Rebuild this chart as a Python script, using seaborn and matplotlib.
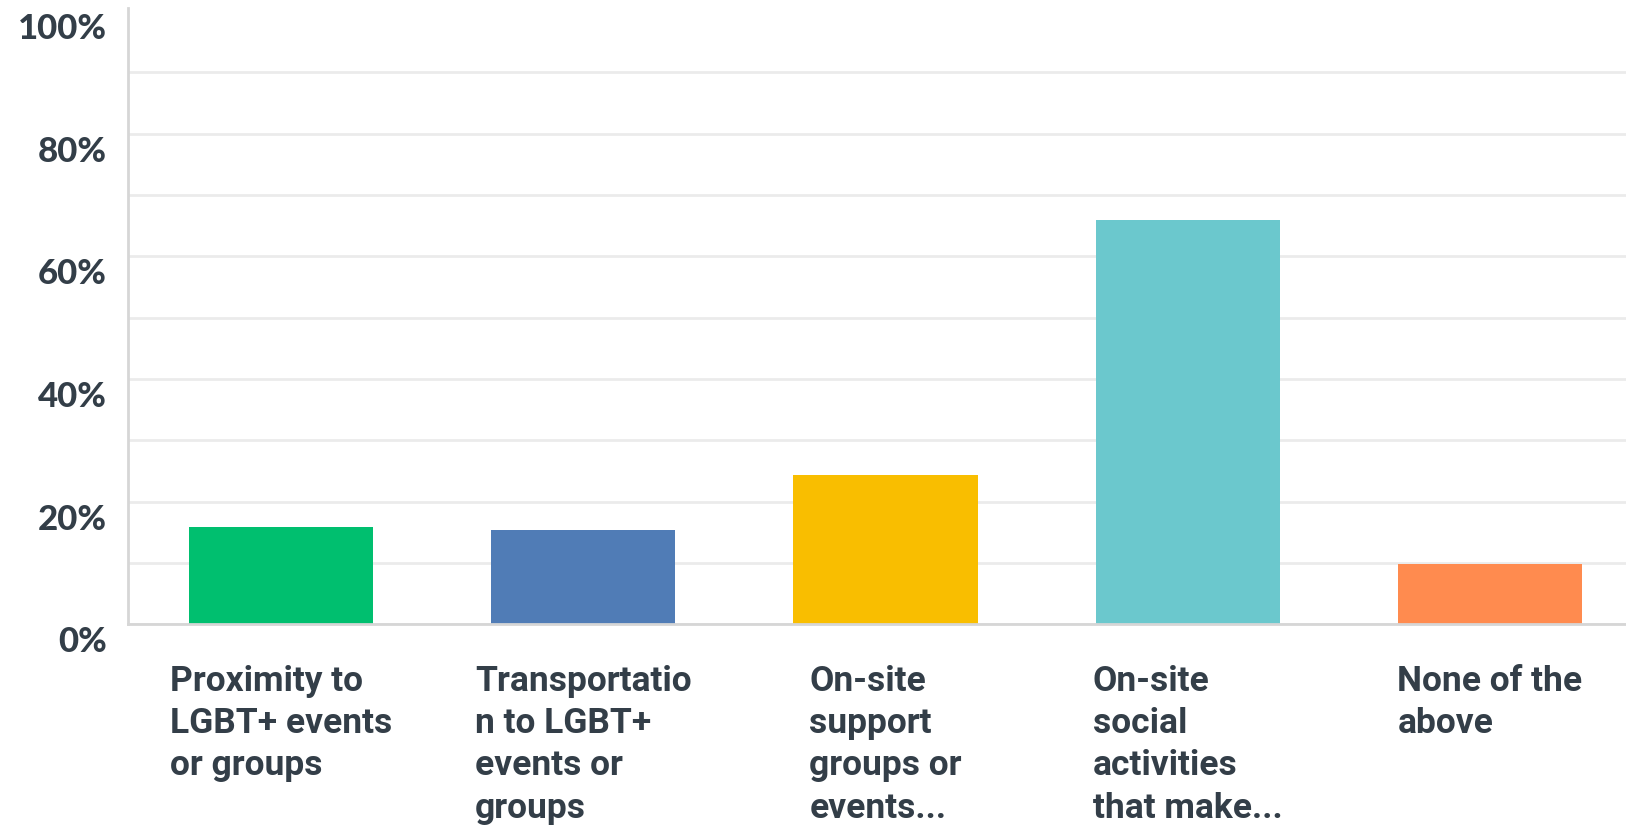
import matplotlib
matplotlib.use("Agg")
import matplotlib.pyplot as plt
import matplotlib.transforms as mtransforms
import seaborn as sns
import pandas as pd

categories = [
    "Proximity to\nLGBT+ events\nor groups",
    "Transportatio\nn to LGBT+\nevents or\ngroups",
    "On-site\nsupport\ngroups or\nevents...",
    "On-site\nsocial\nactivities\nthat make...",
    "None of the\nabove",
]
values = [15.9, 15.4, 24.4, 65.9, 9.8]
colors = ["#00bf6f", "#507cb6", "#f9be00", "#6bc8cd", "#ff8b4f"]
ytick_values = [0, 20, 40, 60, 80, 100]
ytick_labels = ["0%", "20%", "40%", "60%", "80%", "100%"]

sns.set_theme(style="white")
text_color = "#333e48"

df = pd.DataFrame({"cat": categories, "val": values})

fig = plt.figure(figsize=(16.26, 8.25), dpi=100)
ax = fig.add_axes([127.5 / 1626, 1 - 624.3 / 825, 1 - 127.5 / 1626, (624.3 - 8) / 825])

sns.barplot(data=df, x="cat", y="val", hue="cat", palette=colors, legend=False,
            width=0.61, saturation=1, ax=ax, edgecolor="none")

ax.set_xlim(-0.508, 4.45)
ax.set_ylim(0, 100.5)
ax.set_yticks(ytick_values)
ax.set_yticklabels(ytick_labels)
ax.set_yticks([10, 30, 50, 70, 90], minor=True)
ax.set_xlabel("")
ax.set_ylabel("")

ax.grid(False)
ax.yaxis.grid(True, which="both", color="#ebebeb", linewidth=2)
ax.set_axisbelow(True)
for tick in ax.yaxis.get_major_ticks():
    if tick.get_loc() == 100:
        tick.gridline.set_visible(False)

for side in ["top", "right"]:
    ax.spines[side].set_visible(False)
for side in ["left", "bottom"]:
    ax.spines[side].set_color("#d6d6d6")
    ax.spines[side].set_linewidth(2)

ax.tick_params(axis="both", which="both", length=0)
ax.tick_params(axis="y", pad=15)
ax.tick_params(axis="x", pad=29)

for lab in ax.get_yticklabels():
    lab.set_fontfamily(["Lato", "DejaVu Sans"])
    lab.set_fontweight(900)
    lab.set_fontsize(25)
    lab.set_color(text_color)
    lab.set_transform(lab.get_transform() + mtransforms.ScaledTranslation(0, -15 / 100, fig.dpi_scale_trans))

for lab in ax.get_xticklabels():
    lab.set_fontfamily(["Roboto", "DejaVu Sans"])
    lab.set_fontweight("bold")
    lab.set_fontsize(25.5)
    lab.set_color(text_color)
    lab.set_multialignment("left")
    lab.set_linespacing(1.36)
    lab.set_verticalalignment("top")

fig.savefig("out.png", dpi=100, facecolor="white")
